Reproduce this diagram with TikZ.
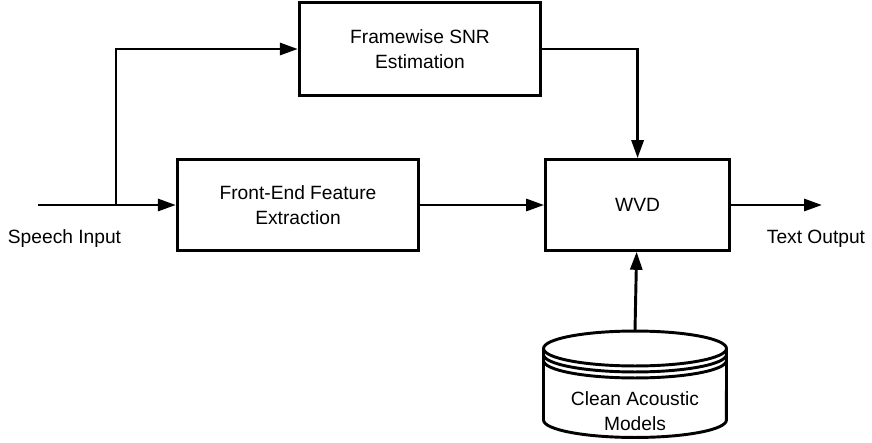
\documentclass[tikz,border=0pt]{standalone}
\usepackage{fontspec}
\setmainfont{Liberation Sans}
\usetikzlibrary{arrows.meta, positioning}

\begin{document}
\begin{tikzpicture}[
    x=0.75pt, y=-0.75pt,
    font=\fontsize{14.4}{18.75}\selectfont,
    block/.style={rectangle, draw=black, line width=2.2pt, minimum width=181pt, minimum height=68pt, align=center, inner sep=0pt},
    arrow/.style={-{Triangle[length=13.5pt, width=9pt]}, line width=2.2pt},
    txt/.style={align=center, inner sep=0pt}
]
    \useasboundingbox (0,0) rectangle (872,443);

    \node[block] (frontend) at (298,205) {Front-End Feature\\Extraction};
    \node[block, minimum width=138pt, right=93pt of frontend] (wvd) {WVD};
    \node[block, minimum height=70pt] (snr) at (420,49) {Framewise SNR\\Estimation};

    % clean acoustic models store
    \draw[line width=2.2pt] (543.5,348.5) -- (543.5,420)
        arc[start angle=180, end angle=360, x radius=68.6pt, y radius=13.1pt] -- (726.5,348.5);
    \draw[line width=2.2pt] (635,348.5) ellipse [x radius=68.6pt, y radius=13.1pt];
    \foreach \dy in {6,12}
        \draw[line width=2.2pt] (543.5,348.5+\dy) arc[start angle=180, end angle=360, x radius=68.6pt, y radius=13.1pt];
    \node[txt] (models) at (635,411) {Clean Acoustic\\Models};
    \coordinate (dbtop) at (635,330.5);

    \node[txt, anchor=base] (speech) at (64.5,243) {Speech Input};
    \node[txt, anchor=base] (text) at (816,243) {Text Output};

    \coordinate (src) at (38,205);
    \coordinate (split) at (116,205);
    \coordinate (sink) at (822,205);

    \draw[arrow] (src) -- (frontend);
    \draw[arrow] (split) |- (snr);
    \draw[arrow] (frontend) -- (wvd);
    \draw[arrow] (wvd) -- (sink);
    \draw[arrow] (snr) -| (wvd);
    \draw[arrow] (dbtop) -- (wvd);
\end{tikzpicture}
\end{document}
